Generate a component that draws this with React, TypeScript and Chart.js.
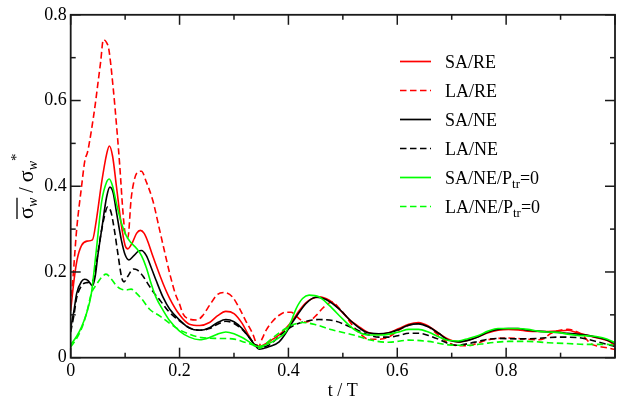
import { useEffect, useRef } from 'react';
import { Chart, registerables } from 'chart.js';

Chart.register(...registerables);

// ---------- data ----------
const xTickValues = [0, 0.2, 0.4, 0.6, 0.8, 1];
const yTickValues = [0, 0.2, 0.4, 0.6, 0.8];
const seriesLabels = ['SA/RE', 'LA/RE', 'SA/NE', 'LA/NE', 'SA/NE/Ptr=0', 'LA/NE/Ptr=0'];
const seriesColors = ['#ff0000', '#ff0000', '#000000', '#000000', '#00ff00', '#00ff00'];
const seriesDashed = [false, true, false, true, false, true];

const saReT = [0, 0.006, 0.012, 0.02, 0.03, 0.04, 0.047, 0.057, 0.066, 0.071, 0.077, 0.084, 0.093, 0.1, 0.105, 0.113, 0.121, 0.128, 0.135, 0.142, 0.15, 0.16, 0.17, 0.182, 0.2, 0.218, 0.237, 0.255, 0.27, 0.285, 0.3, 0.315, 0.328, 0.343, 0.355, 0.37, 0.383, 0.395, 0.408, 0.42, 0.432, 0.444, 0.456, 0.475, 0.493, 0.511, 0.53, 0.548, 0.566, 0.584, 0.603, 0.621, 0.639, 0.657, 0.676, 0.694, 0.712, 0.731, 0.749, 0.767, 0.785, 0.804, 0.822, 0.84, 0.858, 0.877, 0.895, 0.913, 0.931, 0.95, 0.968, 0.986, 1.0];
const saReV = [0.11, 0.18, 0.23, 0.262, 0.272, 0.275, 0.32, 0.41, 0.475, 0.494, 0.47, 0.40, 0.31, 0.262, 0.254, 0.268, 0.29, 0.297, 0.29, 0.27, 0.24, 0.205, 0.172, 0.138, 0.1, 0.078, 0.075, 0.082, 0.098, 0.108, 0.103, 0.08, 0.05, 0.025, 0.03, 0.042, 0.053, 0.068, 0.088, 0.11, 0.128, 0.138, 0.142, 0.134, 0.114, 0.09, 0.072, 0.058, 0.055, 0.058, 0.068, 0.078, 0.082, 0.074, 0.057, 0.043, 0.037, 0.041, 0.049, 0.058, 0.064, 0.066, 0.065, 0.062, 0.061, 0.061, 0.062, 0.064, 0.058, 0.052, 0.046, 0.04, 0.029];

const laReT = [0, 0.005, 0.011, 0.02, 0.026, 0.031, 0.038, 0.045, 0.05, 0.055, 0.06, 0.066, 0.07, 0.078, 0.085, 0.09, 0.096, 0.1, 0.105, 0.111, 0.116, 0.121, 0.13, 0.139, 0.151, 0.163, 0.172, 0.182, 0.192, 0.2, 0.206, 0.218, 0.232, 0.243, 0.255, 0.27, 0.282, 0.297, 0.31, 0.322, 0.334, 0.345, 0.352, 0.36, 0.371, 0.383, 0.395, 0.405, 0.416, 0.425, 0.432, 0.442, 0.452, 0.465, 0.48, 0.493, 0.505, 0.515, 0.53, 0.548, 0.566, 0.584, 0.6, 0.621, 0.639, 0.657, 0.676, 0.694, 0.712, 0.731, 0.749, 0.767, 0.785, 0.804, 0.822, 0.84, 0.858, 0.87, 0.88, 0.895, 0.913, 0.931, 0.943, 0.955, 0.968, 0.986, 1.0];
const laReV = [0.12, 0.2, 0.3, 0.4, 0.46, 0.48, 0.53, 0.59, 0.64, 0.69, 0.742, 0.735, 0.72, 0.63, 0.53, 0.45, 0.34, 0.29, 0.28, 0.37, 0.41, 0.43, 0.435, 0.41, 0.366, 0.30, 0.25, 0.196, 0.15, 0.125, 0.103, 0.09, 0.088, 0.099, 0.122, 0.148, 0.152, 0.142, 0.115, 0.085, 0.057, 0.026, 0.045, 0.066, 0.085, 0.099, 0.106, 0.106, 0.095, 0.086, 0.083, 0.088, 0.1, 0.118, 0.13, 0.116, 0.098, 0.08, 0.058, 0.043, 0.043, 0.048, 0.062, 0.076, 0.08, 0.072, 0.052, 0.035, 0.028, 0.028, 0.035, 0.042, 0.045, 0.046, 0.045, 0.043, 0.042, 0.045, 0.055, 0.063, 0.066, 0.06, 0.049, 0.033, 0.027, 0.023, 0.019];

const saNeT = [0, 0.006, 0.011, 0.02, 0.025, 0.032, 0.04, 0.045, 0.05, 0.057, 0.066, 0.072, 0.078, 0.084, 0.093, 0.1, 0.107, 0.116, 0.124, 0.13, 0.139, 0.148, 0.157, 0.17, 0.182, 0.2, 0.218, 0.237, 0.255, 0.27, 0.285, 0.3, 0.315, 0.328, 0.338, 0.346, 0.355, 0.365, 0.383, 0.395, 0.405, 0.414, 0.432, 0.45, 0.469, 0.493, 0.517, 0.542, 0.566, 0.584, 0.603, 0.621, 0.639, 0.657, 0.676, 0.694, 0.712, 0.731, 0.749, 0.767, 0.785, 0.804, 0.822, 0.84, 0.858, 0.877, 0.895, 0.913, 0.931, 0.95, 0.968, 0.986, 1.0];
const saNeV = [0.07, 0.11, 0.15, 0.178, 0.183, 0.18, 0.168, 0.19, 0.24, 0.30, 0.375, 0.398, 0.385, 0.34, 0.275, 0.24, 0.228, 0.238, 0.248, 0.25, 0.238, 0.21, 0.18, 0.14, 0.113, 0.088, 0.069, 0.064, 0.07, 0.082, 0.089, 0.084, 0.068, 0.047, 0.03, 0.02, 0.022, 0.026, 0.037, 0.057, 0.078, 0.095, 0.126, 0.141, 0.136, 0.114, 0.083, 0.06, 0.056, 0.058, 0.066, 0.076, 0.079, 0.072, 0.057, 0.041, 0.037, 0.041, 0.049, 0.06, 0.066, 0.068, 0.068, 0.064, 0.062, 0.06, 0.059, 0.057, 0.055, 0.052, 0.047, 0.041, 0.033];

const laNeT = [0, 0.006, 0.011, 0.02, 0.028, 0.035, 0.041, 0.047, 0.055, 0.062, 0.068, 0.074, 0.08, 0.087, 0.094, 0.098, 0.105, 0.115, 0.122, 0.133, 0.143, 0.152, 0.164, 0.18, 0.2, 0.218, 0.237, 0.255, 0.27, 0.285, 0.3, 0.315, 0.328, 0.34, 0.348, 0.365, 0.389, 0.408, 0.432, 0.456, 0.487, 0.517, 0.548, 0.566, 0.584, 0.603, 0.621, 0.639, 0.657, 0.676, 0.694, 0.712, 0.731, 0.749, 0.767, 0.785, 0.822, 0.858, 0.895, 0.931, 0.95, 0.968, 0.986, 1.0];
const laNeV = [0.06, 0.1, 0.14, 0.168, 0.175, 0.176, 0.18, 0.22, 0.285, 0.33, 0.352, 0.34, 0.30, 0.24, 0.185, 0.177, 0.19, 0.207, 0.205, 0.19, 0.17, 0.153, 0.134, 0.108, 0.086, 0.07, 0.064, 0.068, 0.078, 0.085, 0.08, 0.066, 0.047, 0.03, 0.025, 0.03, 0.057, 0.074, 0.085, 0.089, 0.085, 0.07, 0.053, 0.048, 0.048, 0.052, 0.057, 0.057, 0.052, 0.043, 0.033, 0.029, 0.033, 0.038, 0.043, 0.045, 0.044, 0.045, 0.048, 0.047, 0.043, 0.037, 0.031, 0.026];

const saNeP0T = [0, 0.011, 0.02, 0.029, 0.038, 0.047, 0.057, 0.066, 0.071, 0.077, 0.084, 0.093, 0.102, 0.111, 0.121, 0.13, 0.139, 0.148, 0.157, 0.17, 0.182, 0.2, 0.218, 0.237, 0.255, 0.27, 0.285, 0.3, 0.315, 0.328, 0.343, 0.36, 0.383, 0.395, 0.405, 0.414, 0.426, 0.438, 0.456, 0.475, 0.5, 0.523, 0.548, 0.572, 0.603, 0.621, 0.639, 0.657, 0.676, 0.694, 0.712, 0.731, 0.749, 0.767, 0.785, 0.822, 0.84, 0.858, 0.877, 0.895, 0.913, 0.931, 0.95, 0.968, 0.986, 1.0];
const saNeP0V = [0.03, 0.05, 0.072, 0.103, 0.15, 0.25, 0.365, 0.41, 0.417, 0.40, 0.36, 0.315, 0.285, 0.268, 0.255, 0.238, 0.21, 0.172, 0.14, 0.11, 0.086, 0.062, 0.048, 0.042, 0.047, 0.055, 0.06, 0.056, 0.047, 0.037, 0.026, 0.031, 0.047, 0.06, 0.085, 0.114, 0.138, 0.146, 0.142, 0.122, 0.09, 0.064, 0.053, 0.053, 0.06, 0.066, 0.066, 0.06, 0.049, 0.04, 0.039, 0.045, 0.052, 0.062, 0.068, 0.068, 0.066, 0.062, 0.06, 0.059, 0.055, 0.052, 0.051, 0.049, 0.043, 0.035];

const laNeP0T = [0, 0.011, 0.02, 0.029, 0.038, 0.047, 0.057, 0.065, 0.075, 0.084, 0.093, 0.102, 0.111, 0.121, 0.13, 0.145, 0.164, 0.182, 0.2, 0.218, 0.24, 0.27, 0.297, 0.32, 0.334, 0.346, 0.365, 0.38, 0.395, 0.41, 0.426, 0.45, 0.48, 0.52, 0.548, 0.584, 0.621, 0.657, 0.694, 0.731, 0.767, 0.804, 0.84, 0.877, 0.913, 0.95, 0.986, 1.0];
const laNeP0V = [0.025, 0.045, 0.068, 0.103, 0.15, 0.17, 0.188, 0.195, 0.183, 0.168, 0.16, 0.158, 0.16, 0.15, 0.138, 0.113, 0.097, 0.08, 0.065, 0.055, 0.047, 0.045, 0.044, 0.036, 0.03, 0.022, 0.04, 0.055, 0.068, 0.078, 0.082, 0.077, 0.065, 0.053, 0.042, 0.036, 0.041, 0.038, 0.03, 0.029, 0.034, 0.038, 0.038, 0.035, 0.033, 0.031, 0.031, 0.029];

const seriesT = [saReT, laReT, saNeT, laNeT, saNeP0T, laNeP0T];
const seriesV = [saReV, laReV, saNeV, laNeV, saNeP0V, laNeP0V];

const SERIF = '"Liberation Serif", "Times New Roman", serif';

function fmt(v: number) {
  return String(Math.round(v * 10) / 10);
}

const decoPlugin = {
  id: 'deco',
  afterDatasetsDraw(chart: any) {
    const { ctx, chartArea: a, scales } = chart;
    const xs = scales.x;
    const ys = scales.y;
    ctx.save();
    const line = (x1: number, y1: number, x2: number, y2: number) => {
      ctx.beginPath();
      ctx.moveTo(x1, y1);
      ctx.lineTo(x2, y2);
      ctx.stroke();
    };
    // frame
    ctx.strokeStyle = '#1a1a1a';
    ctx.lineWidth = 1.8;
    ctx.strokeRect(a.left, a.top, a.right - a.left, a.bottom - a.top);
    // inward ticks
    ctx.lineWidth = 1.5;
    for (let i = 0; i <= 10; i++) {
      const px = xs.getPixelForValue(i / 10);
      const L = i % 2 === 0 ? 10 : 5;
      line(px, a.bottom, px, a.bottom - L);
      line(px, a.top, px, a.top + L);
    }
    for (let i = 0; i <= 8; i++) {
      const py = ys.getPixelForValue(i / 10);
      const L = i % 2 === 0 ? 10 : 5;
      line(a.left, py, a.left + L, py);
      line(a.right, py, a.right - L, py);
    }
    // partially visible last x label (mostly cut off by the canvas edge)
    ctx.fillStyle = '#000';
    ctx.font = `18px ${SERIF}`;
    ctx.textAlign = 'center';
    ctx.textBaseline = 'middle';
    ctx.fillText('1', xs.getPixelForValue(1) + 6, a.bottom + 3 + 10.8);

    // x title
    ctx.textBaseline = 'alphabetic';
    ctx.fillText('t / T', (a.left + a.right) / 2, 396);

    // y title (rotated)
    ctx.save();
    ctx.translate(33, (a.top + a.bottom) / 2);
    ctx.rotate(-Math.PI / 2);
    ctx.textAlign = 'left';
    const big = `22px ${SERIF}`;
    const small = `italic 14px ${SERIF}`;
    const parts: Array<[string, string, number]> = [
      ['σ', big, 0],
      ['w', small, 4],
      [' / ', `20px ${SERIF}`, 0],
      ['σ', big, 0],
      ['w', small, 4],
      ['*', `15px ${SERIF}`, -12],
    ];
    let total = 0;
    const widths = parts.map(([t, f]) => {
      ctx.font = f;
      const w = ctx.measureText(t).width;
      total += w;
      return w;
    });
    let cx = -total / 2;
    const ovStart = cx;
    const ovEnd = cx + widths[0] + widths[1];
    parts.forEach(([t, f, dy], i) => {
      ctx.font = f;
      ctx.fillText(t, cx, dy);
      cx += widths[i];
    });
    ctx.lineWidth = 1.3;
    ctx.strokeStyle = '#000';
    line(ovStart, -16, ovEnd, -16);
    ctx.restore();

    // legend
    ctx.lineWidth = 1.7;
    seriesLabels.forEach((label, i) => {
      const y = 61.5 + 29 * i;
      ctx.strokeStyle = seriesColors[i];
      ctx.setLineDash(seriesDashed[i] ? [6.5, 3.5] : []);
      line(400, y, 431, y);
      ctx.setLineDash([]);
      ctx.fillStyle = '#000';
      ctx.textAlign = 'left';
      ctx.textBaseline = 'alphabetic';
      const m = label.match(/^(.*P)(tr)(=0)$/);
      const base = y + 6;
      if (m) {
        let x = 445;
        ctx.font = `18px ${SERIF}`;
        ctx.fillText(m[1], x, base);
        x += ctx.measureText(m[1]).width;
        ctx.font = `13px ${SERIF}`;
        ctx.fillText(m[2], x, base + 4);
        x += ctx.measureText(m[2]).width;
        ctx.font = `18px ${SERIF}`;
        ctx.fillText(m[3], x, base);
      } else {
        ctx.font = `18px ${SERIF}`;
        ctx.fillText(label, 445, base);
      }
    });
    ctx.restore();
  },
};

export default function App() {
  const ref = useRef<HTMLCanvasElement | null>(null);
  useEffect(() => {
    if (!ref.current) return;
    const datasets = seriesLabels.map((label, i) => ({
      label,
      data: seriesT[i].map((t, j) => ({ x: t, y: seriesV[i][j] })),
      borderColor: seriesColors[i],
      backgroundColor: seriesColors[i],
      borderWidth: 1.6,
      borderDash: seriesDashed[i] ? [6.5, 3.5] : [],
      pointRadius: 0,
      fill: false,
      cubicInterpolationMode: 'monotone' as const,
      order: 5 - i,
    }));
    const chart = new Chart(ref.current, {
      type: 'line',
      data: { datasets },
      plugins: [decoPlugin],
      options: {
        animation: false,
        responsive: false,
        maintainAspectRatio: false,
        layout: { padding: { left: 0, right: 0.7, top: 13.3, bottom: 0 } },
        plugins: { legend: { display: false }, tooltip: { enabled: false } },
        scales: {
          x: {
            type: 'linear',
            min: 0,
            max: 1,
            afterBuildTicks: (s: any) => {
              s.ticks = xTickValues.map((v) => ({ value: v }));
            },
            afterFit: (s: any) => {
              s.height = 45.3;
            },
            ticks: {
              autoSkip: false,
              maxRotation: 0,
              padding: 3,
              color: '#000',
              font: { family: SERIF, size: 18 },
              callback: (v: any) => (Number(v) >= 1 ? '' : fmt(Number(v))),
            },
            grid: { display: false, drawTicks: false },
            border: { display: false },
          },
          y: {
            type: 'linear',
            min: 0,
            max: 0.8,
            afterBuildTicks: (s: any) => {
              s.ticks = yTickValues.map((v) => ({ value: v }));
            },
            afterFit: (s: any) => {
              s.width = 70.7;
            },
            ticks: {
              padding: 4,
              color: '#000',
              font: { family: SERIF, size: 18 },
              callback: (v: any) => fmt(Number(v)),
            },
            grid: { display: false, drawTicks: false },
            border: { display: false },
          },
        },
      },
    });
    return () => chart.destroy();
  }, []);
  return (
    <div style={{ position: 'fixed', left: 0, top: 0, width: 618, height: 403, background: '#fff' }}>
      <canvas ref={ref} width={618} height={403} style={{ width: 618, height: 403 }} />
    </div>
  );
}
